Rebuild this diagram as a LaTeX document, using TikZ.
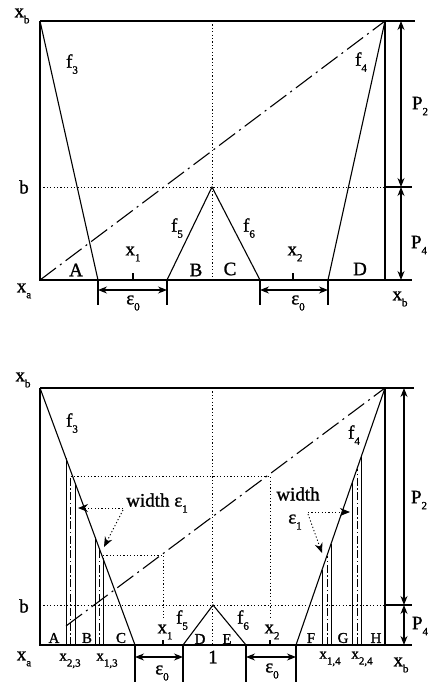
\documentclass[tikz,border=0pt]{standalone}
\usepackage{fontspec}
\setmainfont{Liberation Serif}[FakeBold=1.2]
\usetikzlibrary{arrows.meta}
\tikzset{
  edge/.style={line width=1.1pt},
  guide/.style={line width=0.9pt,dash pattern=on 1.2pt off 2.2pt},
  chord/.style={line width=1.1pt,dash pattern=on 20pt off 5pt on 2pt off 5pt},
  slab/.style={line width=1pt},
  slabmid/.style={line width=0.8pt,dash pattern=on 8pt off 2.5pt on 1.5pt off 2.5pt},
  dim/.style={{Stealth[length=9pt,width=7pt]}-{Stealth[length=9pt,width=7pt]},line width=1.1pt},
  pointer/.style={guide,-{Stealth[length=10pt,width=8pt]}},
  label/.style={font=\fontsize{19}{21}\selectfont,inner sep=0pt},
  smalllabel/.style={font=\fontsize{15}{17}\selectfont,inner sep=0pt},
}
\newcommand{\lo}[1]{\raisebox{-6pt}{\fontsize{11}{12}\selectfont#1}}
\begin{document}
\begin{tikzpicture}[x=1pt,y=-1pt]
  \useasboundingbox (0,0) rectangle (430,686);

  % upper panel: frame, f3..f6 and the chord
  \coordinate (uxa) at (40,280);
  \coordinate (uxb) at (40,21);
  \coordinate (utr) at (385,21);
  \coordinate (ubr) at (385,280);
  \coordinate (ub) at (40,187);
  \coordinate (ubr2) at (385,187);
  \coordinate (uf3) at (98,280);
  \coordinate (uf4) at (328,280);
  \coordinate (utip) at (212,187);
  \coordinate (ul) at (167,280);
  \coordinate (ur) at (260,280);
  \coordinate (umid) at (212,21);
  \coordinate (umidb) at (212,280);

  \draw[edge] (uxb) -- (uxa) -- (412,280);
  \draw[edge] (uxb) -- (415,21);
  \draw[edge] (utr) -- (ubr);
  \draw[edge] (ubr2) -- (412,187);
  \draw[edge] (uxb) -- (uf3);
  \draw[edge] (utr) -- (uf4);
  \draw[edge] (ul) -- (utip) -- (ur);
  \draw[chord] (uxa) -- (utr);
  \draw[guide] (umid) -- (umidb);
  \draw[guide] (ub) -- (ubr2);

  \draw[dim] (401,187) -- (401,21);
  \draw[dim] (401,187) -- (401,280);

  \draw[edge] (uf3) -- (98,305);
  \draw[edge] (ul) -- (167,305);
  \draw[edge] (ur) -- (260,305);
  \draw[edge] (uf4) -- (328,305);
  \draw[dim] (98,290) -- (167,290);
  \draw[dim] (260,290) -- (328,290);
  \draw[edge] (133,273) -- (133,280);
  \draw[edge] (293,273) -- (293,280);

  \node[label] (lxbu) at (22,16) {x\lo{b}};
  \node[label] (lbu) at (24,187) {b};
  \node[label] (lxau) at (24,291) {x\lo{a}};
  \node[label] (lxbru) at (400,299) {x\lo{b}};
  \node[label] (lp2u) at (420,106) {P\lo{2}};
  \node[label] (lp4u) at (419,245) {P\lo{4}};
  \node[label] (lf3u) at (72,64) {f\lo{3}};
  \node[label] (lf4u) at (361,62) {f\lo{4}};
  \node[label] (lf5u) at (177,228) {f\lo{5}};
  \node[label] (lf6u) at (249,228) {f\lo{6}};
  \node[label] (lx1u) at (133,254) {x\lo{1}};
  \node[label] (lx2u) at (295,254) {x\lo{2}};
  \node[label] (lau) at (76,270) {A};
  \node[label] (lbbu) at (196,270) {B};
  \node[label] (lcu) at (230,269) {C};
  \node[label] (ldu) at (360,269) {D};
  \node[label] (le0lu) at (133,303) {ε\lo{0}};
  \node[label] (le0ru) at (298,303) {ε\lo{0}};

  % lower panel: same frame, split strips of width eps1
  \coordinate (lxa) at (40,645);
  \coordinate (lxb) at (40,388);
  \coordinate (ltr) at (385,388);
  \coordinate (lbr) at (385,645);
  \coordinate (lb) at (40,605);
  \coordinate (lbr2) at (385,605);
  \coordinate (lf3) at (135,645);
  \coordinate (lf4) at (296,645);
  \coordinate (ltip) at (213,605);
  \coordinate (ll) at (183,645);
  \coordinate (lr) at (246,645);
  \coordinate (lmid) at (212,388);
  \coordinate (lmidb) at (212,645);
  \coordinate (lchord) at (66,626);

  \draw[edge] (lxb) -- (lxa) -- (412,645);
  \draw[edge] (lxb) -- (414,388);
  \draw[edge] (ltr) -- (lbr);
  \draw[edge] (lbr2) -- (412,605);
  \draw[edge] (lxb) -- (lf3);
  \draw[edge] (ltr) -- (lf4);
  \draw[edge] (ll) -- (ltip) -- (lr);
  \draw[chord] (lchord) -- (ltr);
  \draw[guide] (lmid) -- (lmidb);
  \draw[guide] (lb) -- (lbr2);

  \foreach \xl/\yl/\xc/\yc/\xr/\yr in
      {66/458/70.5/476/75/483, 95/537/99/548/103/558,
       322/570/327/556/331/544, 352/483/357/469/361/457} {
    \draw[slab] (\xl,645) -- (\xl,\yl);
    \draw[slab] (\xr,645) -- (\xr,\yr);
    \draw[slabmid] (\xc,645) -- (\xc,\yc);
  }

  \draw[guide] (70.5,476) -- (270,476) -- (270,618);
  \draw[guide] (103,555) -- (163,555) -- (163,618);

  \draw[dim] (404,605) -- (404,388);
  \draw[dim] (404,605) -- (404,645);

  \draw[edge] (lf3) -- (135,682);
  \draw[edge] (ll) -- (183,682);
  \draw[edge] (lr) -- (246,682);
  \draw[edge] (lf4) -- (296,682);
  \draw[dim] (135,657) -- (183,657);
  \draw[dim] (246,657) -- (296,657);
  \draw[edge] (163,640) -- (163,645);
  \draw[edge] (270,640) -- (270,645);

  \node[label] (lwl) at (157,503) {width ε\lo{1}};
  \draw[pointer] (123,508) -- (78,508);
  \draw[pointer] (123,510) -- (104,547);
  \node[label] (lwr) at (298,494) {width};
  \node[label] (lwre) at (295,522) {ε\lo{1}};
  \draw[pointer] (308,512) -- (350,512);
  \draw[pointer] (308,514) -- (322,553);

  \node[label] (lxbl) at (23,380) {x\lo{b}};
  \node[label] (lbl) at (24,606) {b};
  \node[label] (lxal) at (24,659) {x\lo{a}};
  \node[label] (lxbrl) at (401,665) {x\lo{b}};
  \node[label] (lp2l) at (419,500) {P\lo{2}};
  \node[label] (lp4l) at (420,626) {P\lo{4}};
  \node[label] (lf3l) at (72,423) {f\lo{3}};
  \node[label] (lf4l) at (354,435) {f\lo{4}};
  \node[label] (lf5l) at (182,620) {f\lo{5}};
  \node[label] (lf6l) at (243,620) {f\lo{6}};
  \node[label] (lx1l) at (165,632) {x\lo{1}};
  \node[label] (lx2l) at (272,632) {x\lo{2}};
  \node[label] (lone) at (213,657) {1};
  \node[label] (le0ll) at (162,673) {ε\lo{0}};
  \node[label] (le0rl) at (272,671) {ε\lo{0}};
  \node[smalllabel] (lx23) at (70,661) {x\lo{2,3}};
  \node[smalllabel] (lx13) at (107,661) {x\lo{1,3}};
  \node[smalllabel] (lx14) at (330,659) {x\lo{1,4}};
  \node[smalllabel] (lx24) at (362,659) {x\lo{2,4}};
  \node[smalllabel] (lal) at (54,638) {A};
  \node[smalllabel] (lbbl) at (87,638) {B};
  \node[smalllabel] (lcl) at (121,638) {C};
  \node[smalllabel] (ldl) at (200,639) {D};
  \node[smalllabel] (lel) at (227,639) {E};
  \node[smalllabel] (lfl) at (311,638) {F};
  \node[smalllabel] (lgl) at (343,638) {G};
  \node[smalllabel] (lhl) at (376,638) {H};
\end{tikzpicture}
\end{document}
